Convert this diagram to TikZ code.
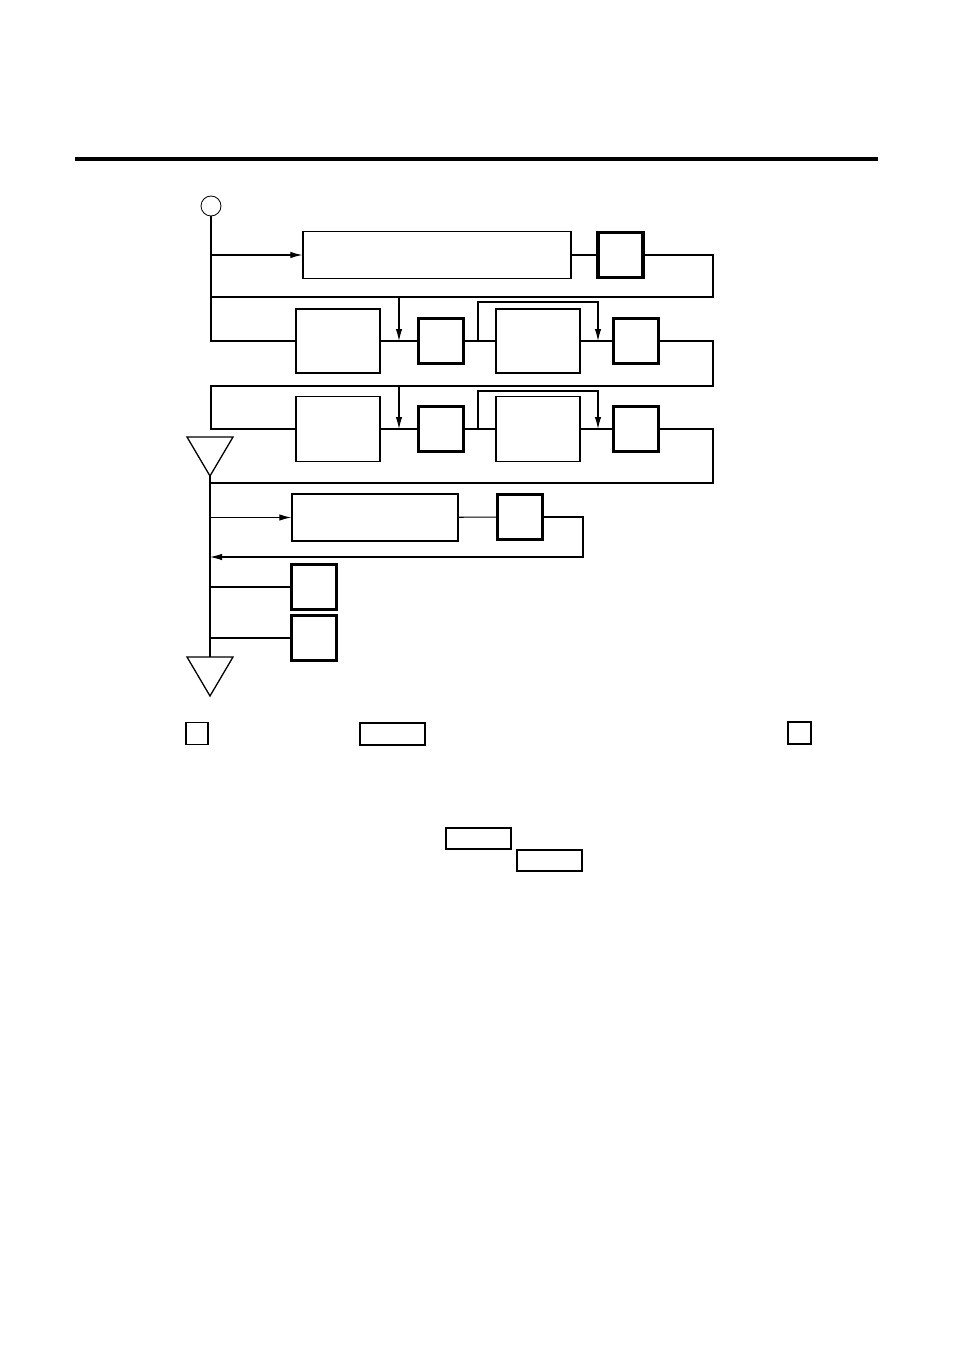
\documentclass[tikz,border=0pt]{standalone}
\usepackage{tikz}
\usetikzlibrary{arrows.meta}

\begin{document}
\begin{tikzpicture}[x=1pt, y=-1pt, line width=1.1pt,
  thinbox/.style={draw, line width=1.3pt, inner sep=0pt, minimum width=#1},
  thinbox/.default=84pt,
  keybox/.style={draw, line width=3.4pt, inner sep=0pt, minimum width=45pt, minimum height=45pt},
  tagbox/.style={draw, line width=1.2pt, inner sep=0pt, minimum width=#1, minimum height=22pt},
  arr/.style={-{Latex[length=12pt,width=6.5pt]}}]
  \useasboundingbox (0,0) rectangle (954,1348);

  % ---------- header rule ----------
  \draw[line width=4pt] (75,159) -- (878,159);

  % ---------- start ----------
  \node[draw, circle, line width=0.8pt, minimum size=20pt, inner sep=0pt] (start) at (211,206) {};

  % ===== row 1 =====
  \node[thinbox=268pt, minimum height=47pt] (b1) at (437,255) {};
  \node[keybox] (k1) at (620.5,255) {};
  \coordinate (e1) at (713,297);

  % ===== row 2 =====
  \node[thinbox, minimum height=64pt] (b2a) at (338,341) {};
  \node[keybox] (k2a) at (441,341) {};
  \node[thinbox, minimum height=64pt] (b2b) at (538,341) {};
  \node[keybox] (k2b) at (636,341) {};
  \coordinate (m2) at (399,341);
  \coordinate (s2) at (478,341);
  \coordinate (t2) at (598,341);
  \coordinate (e2) at (713,386);

  % ===== row 3 =====
  \node[thinbox, minimum height=65pt] (b3a) at (338,429) {};
  \node[keybox] (k3a) at (441,429) {};
  \node[thinbox, minimum height=65pt] (b3b) at (538,429) {};
  \node[keybox] (k3b) at (636,429) {};
  \coordinate (m3) at (399,429);
  \coordinate (s3) at (478,429);
  \coordinate (t3) at (598,429);
  \coordinate (e3) at (713,483);

  % ---------- triangles ----------
  \coordinate (tri1) at (210,476);
  \coordinate (tri2) at (210,657);
  \draw[line width=1.3pt] (187,437) -- (233,437) -- (tri1) -- cycle;
  \draw[line width=1.3pt] (187,657) -- (233,657) -- (210,696) -- cycle;

  % ===== row 4 and the two keys =====
  \node[thinbox=166pt, minimum height=47pt] (b4) at (375,517.5) {};
  \node[keybox] (k4) at (520,517) {};
  \coordinate (e4) at (583,557);
  \node[keybox] (k5) at (314,587) {};
  \node[keybox] (k6) at (314,638) {};

  % ---------- connectors ----------
  \draw (start) -- (start |- b2a) -- (b2a.west);
  \draw[arr] (start |- b1) -- (b1.west);
  \draw (b1) -- (k1);
  \draw (k1.east) -| (e1) -- (start |- e1);

  \draw[arr] (m2 |- e1) -- (m2);
  \draw (b2a) -- (k2a) -- (b2b) -- (k2b);
  \draw[arr] (s2) |- (t2 |- 0,302) -- (t2);
  \draw (k2b.east) -| (e2) -- (start |- e2) -- (start |- b3a) -- (b3a.west);

  \draw[arr] (m3 |- e2) -- (m3);
  \draw (b3a) -- (k3a) -- (b3b) -- (k3b);
  \draw[arr] (s3) |- (t3 |- 0,391) -- (t3);
  \draw (k3b.east) -| (e3) -- (tri1 |- e3);

  \draw[line width=2pt] (tri1) -- (tri2);
  \draw[arr] (tri1 |- b4) -- (b4.west);
  \draw (b4) -- (k4);
  \draw[arr] (k4.east) -| (e4) -- (tri1 |- e4);
  \draw (tri1 |- k5) -- (k5.west);
  \draw (tri1 |- k6) -- (k6.west);

  % ---------- legend marks ----------
  \node[tagbox=22pt] (tag1) at (197,733.5) {};
  \node[tagbox=65pt] (tag2) at (392.5,734) {};
  \node[tagbox=23pt] (tag3) at (799.5,733) {};
  \node[tagbox=65pt, minimum height=21pt] (tag4) at (478.5,838.5) {};
  \node[tagbox=65pt, minimum height=21pt] (tag5) at (549.5,860.5) {};

\end{tikzpicture}
\end{document}
